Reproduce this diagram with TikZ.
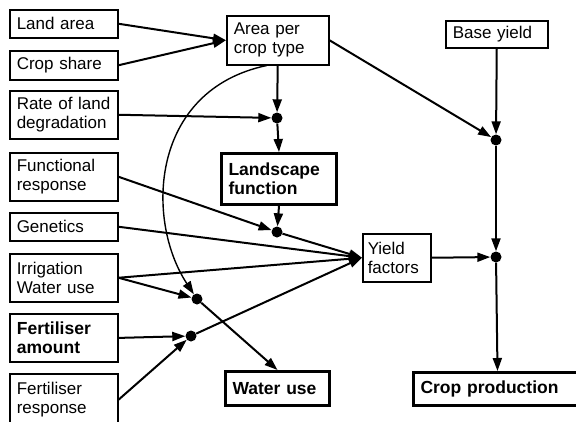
\documentclass[tikz,border=0pt]{standalone}
\usepackage{fontspec}
\setmainfont{Liberation Sans}
\usetikzlibrary{arrows.meta}
\begin{document}
\begin{tikzpicture}[x=1pt,y=-1pt,
  box/.style={draw, line width=1.5pt, inner xsep=7pt, inner ysep=0pt, align=left, anchor=north west, font=\fontsize{17}{19}\selectfont},
  bbox/.style={box, line width=3pt, font=\fontsize{17.5}{19}\selectfont\bfseries},
  dotn/.style={circle, fill, inner sep=0pt, minimum size=11pt},
  arr/.style={line width=2pt, -{Triangle[length=13pt,width=9pt]}}]
\useasboundingbox (0,0) rectangle (576,421);
% left column
\node[box, text width=94pt, minimum height=28pt] (land) at (9,9) {Land area};
\node[box, text width=94pt, minimum height=29pt] (cshare) at (9,50) {Crop share};
\node[box, text width=94pt, minimum height=48pt] (rate) at (9,90) {Rate of land\\degradation};
\node[box, text width=94pt, minimum height=48pt] (func) at (9,152) {Functional\\response};
\node[box, text width=94pt, minimum height=28pt] (gen) at (9,212) {Genetics};
\node[box, text width=94pt, minimum height=48pt] (irrig) at (9,253) {Irrigation\\Water use};
\node[box, text width=94pt, minimum height=48pt, line width=1.8pt, font=\fontsize{17.5}{19}\selectfont\bfseries] (fertam) at (9,313) {Fertiliser\\amount};
\node[box, text width=94pt, minimum height=52pt] (fertresp) at (9,373) {Fertiliser\\response};
% middle
\node[box, text width=88pt, minimum height=49pt] (area) at (226,15) {Area per\\crop type};
\node[bbox, text width=101pt, minimum height=51pt] (landscape) at (220,152) {Landscape\\function};
\node[bbox, text width=90pt, minimum height=34pt] (water) at (224,370) {Water use};
\node[box, inner xsep=5pt, text width=58pt, minimum height=48pt] (yield) at (362,233) {Yield\\factors};
% right
\node[box, text width=88pt, minimum height=27pt] (base) at (445,20) {Base yield};
\node[bbox, text width=154pt, minimum height=33pt] (crop) at (412,371) {Crop production};
% junction dots
\node[dotn] (dot1) at (277,118) {};
\node[dotn] (dot2) at (277,232) {};
\node[dotn] (dot3) at (197,299) {};
\node[dotn] (dot4) at (191,336) {};
\node[dotn] (dot5) at (496,140) {};
\node[dotn] (dot6) at (496,257) {};
% connectors
\draw[arr] (land.east) -- (area.west);
\draw[arr] (cshare.east) -- (area.west);
\draw[arr] (area.south) -- (dot1);
\draw[arr] (rate.east) -- (dot1);
\draw[arr] (dot1) -- (landscape.north);
\draw[arr] (landscape.south) -- (dot2);
\draw[arr] (func.east) -- (dot2);
\draw[arr] (dot2) -- (yield.west);
\draw[arr] (gen.east) -- (yield.west);
\draw[arr] (irrig.east) -- (yield.west);
\draw[arr] (irrig.east) -- (dot3);
\draw[arr, line width=1.4pt] ([xshift=-11pt]area.south) .. controls (150,90) and (145,220) .. (dot3);
\draw[arr] (dot3) -- (water.north);
\draw[arr] (fertam.east) -- (dot4);
\draw[arr] (fertresp.east) -- (dot4);
\draw[arr] (dot4) -- (yield.west);
\draw[arr] (area.east) -- (dot5);
\draw[arr] (base.south) -- (dot5);
\draw[arr] (dot5) -- (dot6);
\draw[arr] (yield.east) -- (dot6);
\draw[arr] (dot6) -- (crop.north);
\end{tikzpicture}
\end{document}
